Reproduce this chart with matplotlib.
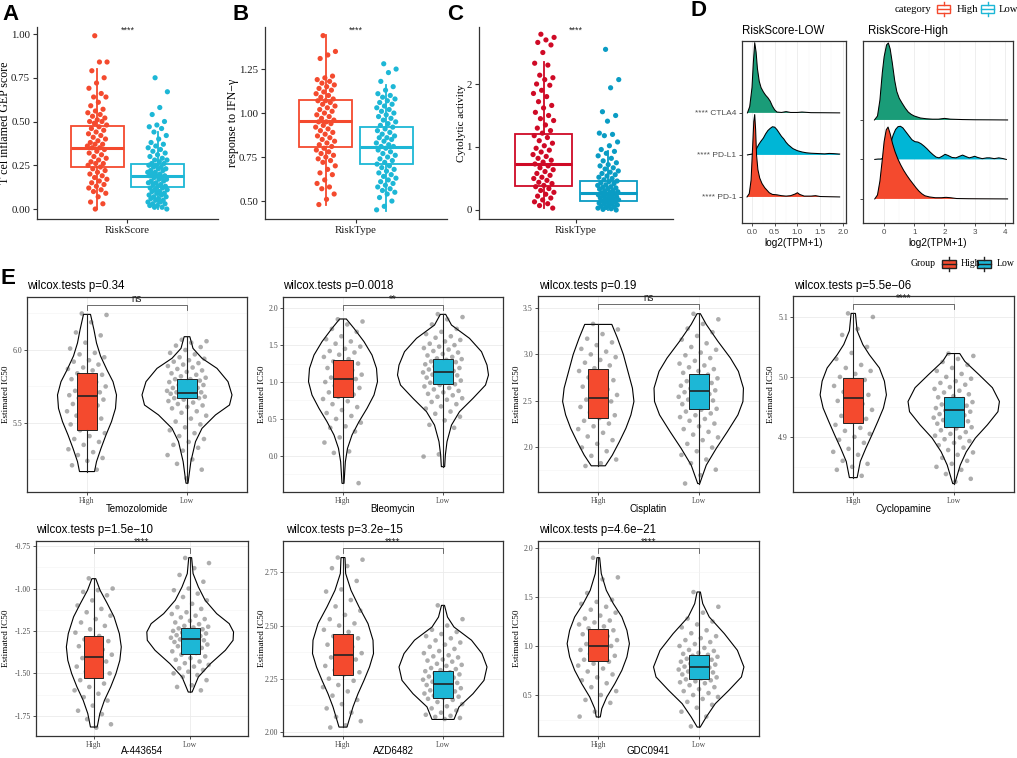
import numpy as np
import matplotlib
matplotlib.use("Agg")
import matplotlib.pyplot as plt
from matplotlib.patches import Rectangle, Polygon

# ======================= DATA =======================
groups = ["High", "Low"]

# ---- Panel A: T cell inflamed GEP score ----
a_high = [0.99, 0.84, 0.84, 0.79, 0.75, 0.72, 0.69, 0.66, 0.64, 0.64, 0.61, 0.59, 0.57, 0.56, 0.55, 0.54,
          0.53, 0.52, 0.51, 0.50, 0.50, 0.49, 0.48, 0.47, 0.46, 0.45, 0.44, 0.43, 0.42, 0.41, 0.40, 0.39,
          0.38, 0.37, 0.37, 0.36, 0.35, 0.35, 0.34, 0.33, 0.32, 0.31, 0.30, 0.29, 0.28, 0.27, 0.26, 0.26,
          0.25, 0.24, 0.23, 0.22, 0.21, 0.20, 0.19, 0.18, 0.17, 0.16, 0.15, 0.14, 0.13, 0.12, 0.11, 0.10,
          0.09, 0.07, 0.04, 0.03, 0.00]
a_low = [0.75, 0.67, 0.58, 0.54, 0.50, 0.48, 0.47, 0.46, 0.44, 0.42, 0.40, 0.38, 0.37, 0.36, 0.35, 0.34,
         0.33, 0.32, 0.31, 0.30, 0.29, 0.28, 0.28, 0.27, 0.26, 0.26, 0.25, 0.25, 0.24, 0.24, 0.23, 0.23,
         0.22, 0.22, 0.21, 0.21, 0.20, 0.20, 0.19, 0.19, 0.19, 0.18, 0.18, 0.17, 0.17, 0.16, 0.16, 0.15,
         0.15, 0.14, 0.14, 0.13, 0.13, 0.12, 0.12, 0.11, 0.11, 0.10, 0.10, 0.09, 0.09, 0.08, 0.08, 0.07,
         0.07, 0.06, 0.06, 0.05, 0.05, 0.04, 0.04, 0.03, 0.03, 0.02, 0.02, 0.01, 0.01, 0.00]
a_high_box = [0.242, 0.351, 0.477, 0.00, 0.80]   # q1, median, q3, whisker low, whisker high
a_low_box = [0.124, 0.191, 0.258, 0.00, 0.44]

# ---- Panel B: response to IFN-gamma ----
b_high = [1.44, 1.35, 1.33, 1.31, 1.21, 1.20, 1.19, 1.18, 1.17, 1.16, 1.15, 1.14, 1.13, 1.12, 1.11, 1.10,
          1.09, 1.08, 1.07, 1.07, 1.06, 1.05, 1.04, 1.03, 1.02, 1.01, 1.00, 0.99, 0.98, 0.97, 0.96, 0.95,
          0.95, 0.94, 0.93, 0.92, 0.91, 0.90, 0.89, 0.88, 0.87, 0.86, 0.85, 0.84, 0.83, 0.82, 0.81, 0.80,
          0.79, 0.78, 0.77, 0.76, 0.75, 0.74, 0.73, 0.72, 0.70, 0.68, 0.66, 0.65, 0.62, 0.60, 0.58, 0.57,
          0.54, 0.51, 0.48]
b_low = [1.28, 1.25, 1.23, 1.18, 1.15, 1.13, 1.11, 1.10, 1.09, 1.08, 1.07, 1.06, 1.05, 1.04, 1.03, 1.02,
         1.01, 1.00, 0.99, 0.98, 0.97, 0.96, 0.95, 0.94, 0.93, 0.92, 0.91, 0.90, 0.89, 0.88, 0.87, 0.86,
         0.86, 0.85, 0.84, 0.83, 0.82, 0.81, 0.81, 0.80, 0.79, 0.78, 0.77, 0.76, 0.75, 0.74, 0.73, 0.72,
         0.71, 0.70, 0.69, 0.68, 0.67, 0.66, 0.65, 0.64, 0.63, 0.62, 0.61, 0.60, 0.59, 0.58, 0.57, 0.56,
         0.55, 0.54, 0.52, 0.50, 0.47, 0.45]
b_high_box = [0.807, 0.957, 1.075, 0.475, 1.446]
b_low_box = [0.709, 0.808, 0.919, 0.443, 1.16]

# ---- Panel C: Cytolytic activity ----
c_high = [2.79, 2.74, 2.70, 2.66, 2.62, 2.50, 2.33, 2.30, 2.14, 2.10, 2.07, 2.00, 1.98, 1.90, 1.85, 1.80,
          1.72, 1.66, 1.62, 1.55, 1.50, 1.45, 1.42, 1.35, 1.30, 1.26, 1.22, 1.18, 1.15, 1.10, 1.06, 1.02,
          0.98, 0.95, 0.92, 0.88, 0.85, 0.82, 0.79, 0.76, 0.73, 0.70, 0.67, 0.64, 0.61, 0.58, 0.55, 0.52,
          0.50, 0.47, 0.44, 0.42, 0.39, 0.37, 0.34, 0.31, 0.28, 0.25, 0.22, 0.19, 0.16, 0.13, 0.10, 0.07, 0.03]
c_low = [2.55, 2.07, 1.94, 1.56, 1.50, 1.41, 1.22, 1.20, 1.18, 1.08, 1.02, 0.96, 0.93, 0.90, 0.86, 0.82,
         0.78, 0.75, 0.72, 0.70, 0.67, 0.65, 0.62, 0.60, 0.58, 0.56, 0.54, 0.52, 0.50, 0.48, 0.46, 0.45,
         0.43, 0.42, 0.40, 0.39, 0.37, 0.36, 0.35, 0.34, 0.33, 0.31, 0.30, 0.29, 0.28, 0.27, 0.26, 0.25,
         0.24, 0.23, 0.22, 0.21, 0.20, 0.19, 0.18, 0.17, 0.16, 0.15, 0.14, 0.13, 0.12, 0.11, 0.10, 0.09,
         0.08, 0.07, 0.06, 0.05, 0.04, 0.03, 0.02, 0.01, 0.00]
c_high_box = [0.382, 0.727, 1.204, 0.03, 2.345]
c_low_box = [0.149, 0.265, 0.46, 0.00, 0.93]

# ---- Panel D: ridgelines (x = log2(TPM+1), h = density height in row units) ----
d_rows = ["**** PD-1", "**** PD-L1", "**** CTLA4"]
dl_ctla4_x = [-0.10, -0.05, 0.0, 0.03, 0.06, 0.09, 0.12, 0.16, 0.20, 0.25, 0.30, 0.35, 0.40, 0.45, 0.50,
              0.55, 0.65, 0.75, 0.85, 1.0, 1.1, 1.3, 1.6, 1.93]
dl_ctla4_h = [0.0, 0.15, 0.6, 1.2, 1.67, 1.45, 1.05, 0.75, 0.6, 0.5, 0.42, 0.36, 0.28, 0.16, 0.07,
              0.02, 0.01, 0.03, 0.01, 0.01, 0.02, 0.005, 0.003, 0.0]
dl_pdl1_x = [-0.10, 0.0, 0.05, 0.10, 0.15, 0.20, 0.25, 0.30, 0.35, 0.40, 0.45, 0.50, 0.55, 0.60, 0.65,
             0.70, 0.75, 0.80, 0.90, 1.00, 1.10, 1.20, 1.30, 1.40, 1.50, 1.60, 1.70, 1.80, 1.93]
dl_pdl1_h = [0.0, 0.02, 0.06, 0.15, 0.25, 0.33, 0.40, 0.50, 0.58, 0.63, 0.67, 0.66, 0.60, 0.52, 0.44,
             0.38, 0.30, 0.24, 0.15, 0.10, 0.07, 0.05, 0.04, 0.035, 0.03, 0.025, 0.035, 0.03, 0.02]
dl_pd1_x = [-0.11, -0.06, -0.02, 0.01, 0.04, 0.06, 0.08, 0.10, 0.13, 0.17, 0.22, 0.28, 0.33, 0.38, 0.45,
            0.55, 0.65, 0.75, 0.85, 0.95, 1.0, 1.05, 1.15, 1.3, 1.4, 1.5, 1.7, 1.93]
dl_pd1_h = [0.0, 0.08, 0.4, 1.1, 1.8, 1.96, 1.6, 1.0, 0.65, 0.45, 0.32, 0.22, 0.16, 0.10, 0.06,
            0.05, 0.03, 0.02, 0.03, 0.07, 0.10, 0.06, 0.02, 0.02, 0.03, 0.01, 0.005, 0.0]
dr_ctla4_x = [-0.32, -0.22, -0.14, -0.06, 0.0, 0.08, 0.14, 0.2, 0.27, 0.35, 0.42, 0.5, 0.6, 0.7, 0.8,
              0.9, 1.0, 1.2, 1.4, 1.6, 1.8, 2.0, 2.2, 2.6, 3.0, 3.5, 4.09]
dr_ctla4_h = [0.0, 0.1, 0.5, 1.2, 1.6, 1.9, 1.95, 1.8, 1.45, 1.0, 0.72, 0.55, 0.42, 0.3, 0.2,
              0.14, 0.1, 0.05, 0.03, 0.02, 0.02, 0.04, 0.02, 0.01, 0.005, 0.003, 0.0]
dr_pdl1_x = [-0.31, -0.2, -0.1, 0.0, 0.08, 0.15, 0.22, 0.30, 0.38, 0.46, 0.54, 0.62, 0.72, 0.82, 0.92,
             1.02, 1.12, 1.22, 1.32, 1.42, 1.52, 1.62, 1.72, 1.82, 1.92, 2.02, 2.12, 2.25, 2.38, 2.5,
             2.6, 2.72, 2.82, 2.92, 3.0, 3.1, 3.25, 3.4, 3.5, 3.65, 3.8, 3.95, 4.05]
dr_pdl1_h = [0.0, 0.01, 0.01, 0.05, 0.12, 0.25, 0.42, 0.62, 0.76, 0.83, 0.84, 0.80, 0.70, 0.60, 0.50,
             0.45, 0.44, 0.40, 0.34, 0.27, 0.19, 0.12, 0.06, 0.04, 0.08, 0.13, 0.10, 0.05, 0.04, 0.08,
             0.11, 0.07, 0.04, 0.06, 0.08, 0.05, 0.02, 0.04, 0.04, 0.02, 0.04, 0.02, 0.0]
dr_pd1_x = [-0.31, -0.22, -0.14, -0.06, 0.0, 0.07, 0.13, 0.2, 0.28, 0.36, 0.45, 0.55, 0.65, 0.75, 0.85,
            0.95, 1.05, 1.15, 1.25, 1.35, 1.5, 1.7, 1.9, 2.05, 2.2, 2.4, 2.8, 3.2, 4.09]
dr_pd1_h = [0.0, 0.1, 0.45, 1.0, 1.45, 1.75, 1.82, 1.65, 1.4, 1.2, 1.02, 0.86, 0.72, 0.6, 0.49,
            0.39, 0.29, 0.2, 0.13, 0.08, 0.05, 0.03, 0.03, 0.04, 0.03, 0.01, 0.005, 0.003, 0.0]

# ---- Panel E: drug sensitivity (Estimated IC50) ----
drugs = ["Temozolomide", "Bleomycin", "Cisplatin", "Cyclopamine", "A-443654", "AZD6482", "GDC0941"]
pvals = ["0.34", "0.0018", "0.19", "5.5e\u221206", "1.5e\u221210", "3.2e\u221215", "4.6e\u221221"]
sig_labels = ["ns", "**", "ns", "****", "****", "****", "****"]

tem_high = [6.25, 6.24, 6.19, 6.12, 6.10, 6.05, 6.01, 5.98, 5.97, 5.95, 5.93, 5.92, 5.90, 5.88, 5.87, 5.86,
            5.84, 5.83, 5.81, 5.80, 5.78, 5.77, 5.75, 5.74, 5.72, 5.71, 5.70, 5.69, 5.68, 5.67, 5.66, 5.65,
            5.63, 5.62, 5.60, 5.58, 5.57, 5.55, 5.53, 5.51, 5.49, 5.47, 5.45, 5.43, 5.41, 5.39, 5.37, 5.35,
            5.32, 5.30, 5.28, 5.26, 5.24, 5.21, 5.18]
tem_low = [6.07, 6.06, 6.05, 6.03, 6.02, 6.00, 5.98, 5.97, 5.95, 5.94, 5.93, 5.92, 5.91, 5.90, 5.89, 5.88,
           5.87, 5.86, 5.85, 5.84, 5.83, 5.82, 5.81, 5.80, 5.80, 5.79, 5.78, 5.78, 5.77, 5.76, 5.76, 5.75,
           5.74, 5.74, 5.73, 5.72, 5.72, 5.71, 5.71, 5.70, 5.70, 5.69, 5.69, 5.68, 5.68, 5.67, 5.67, 5.66,
           5.65, 5.64, 5.63, 5.62, 5.61, 5.60, 5.58, 5.57, 5.55, 5.53, 5.51, 5.49, 5.47, 5.45, 5.43, 5.41,
           5.39, 5.37, 5.35, 5.33, 5.31, 5.28, 5.25, 5.22, 5.18, 5.12]
tem_high_box = [5.452, 5.685, 5.840, 5.167, 6.244]
tem_low_box = [5.673, 5.708, 5.801, 5.087, 6.091]
tem_high_vy = [5.167, 5.235, 5.326, 5.418, 5.509, 5.600, 5.692, 5.783, 5.863, 5.959, 6.048, 6.137, 6.244]
tem_high_vw = [0.15, 0.19, 0.28, 0.38, 0.49, 0.57, 0.59, 0.52, 0.40, 0.27, 0.19, 0.14, 0.07]
tem_low_vy = [5.087, 5.235, 5.372, 5.463, 5.555, 5.623, 5.692, 5.783, 5.874, 5.943, 6.011, 6.091]
tem_low_vw = [0.02, 0.077, 0.17, 0.30, 0.57, 0.85, 0.90, 0.82, 0.60, 0.30, 0.12, 0.057]

bleo_high = [1.85, 1.82, 1.78, 1.72, 1.68, 1.62, 1.58, 1.55, 1.52, 1.48, 1.45, 1.42, 1.40, 1.37, 1.34, 1.31,
             1.28, 1.25, 1.22, 1.19, 1.16, 1.13, 1.10, 1.08, 1.06, 1.04, 1.02, 1.00, 0.98, 0.95, 0.92, 0.89,
             0.86, 0.83, 0.80, 0.77, 0.74, 0.70, 0.66, 0.62, 0.58, 0.54, 0.50, 0.45, 0.40, 0.38, 0.33, 0.25,
             0.18, 0.06, 0.04, -0.37]
bleo_low = [1.92, 1.88, 1.85, 1.78, 1.72, 1.68, 1.65, 1.62, 1.60, 1.57, 1.55, 1.52, 1.50, 1.48, 1.46, 1.44,
            1.42, 1.40, 1.38, 1.36, 1.34, 1.32, 1.31, 1.30, 1.28, 1.27, 1.25, 1.24, 1.22, 1.21, 1.19, 1.18,
            1.17, 1.15, 1.14, 1.13, 1.12, 1.10, 1.09, 1.08, 1.06, 1.05, 1.03, 1.02, 1.00, 0.99, 0.97, 0.96,
            0.94, 0.92, 0.90, 0.88, 0.86, 0.84, 0.82, 0.80, 0.78, 0.76, 0.73, 0.70, 0.67, 0.64, 0.60, 0.57,
            0.53, 0.48, 0.42, 0.38, 0.02, -0.01]
bleo_high_box = [0.801, 1.041, 1.294, -0.373, 1.854]
bleo_low_box = [0.970, 1.135, 1.307, -0.147, 1.917]
bleo_high_vy = [-0.373, -0.080, 0.101, 0.282, 0.463, 0.643, 0.824, 1.005, 1.185, 1.366, 1.547, 1.727, 1.854]
bleo_high_vw = [0.02, 0.047, 0.09, 0.18, 0.32, 0.48, 0.62, 0.69, 0.67, 0.58, 0.42, 0.22, 0.067]
bleo_low_vy = [-0.147, 0.011, 0.192, 0.417, 0.598, 0.779, 0.959, 1.095, 1.230, 1.411, 1.592, 1.772, 1.917]
bleo_low_vw = [0.033, 0.047, 0.08, 0.17, 0.33, 0.60, 0.85, 0.91, 0.88, 0.77, 0.53, 0.17, 0.053]

cis_high = [3.33, 3.27, 3.22, 3.17, 3.13, 3.10, 3.06, 3.03, 3.00, 2.97, 2.94, 2.91, 2.88, 2.85, 2.82, 2.78,
            2.75, 2.72, 2.68, 2.65, 2.62, 2.59, 2.56, 2.53, 2.51, 2.49, 2.46, 2.43, 2.40, 2.37, 2.34, 2.31,
            2.28, 2.25, 2.22, 2.19, 2.15, 2.11, 2.07, 2.03, 1.99, 1.95, 1.90, 1.86, 1.82, 1.79]
cis_low = [3.44, 3.38, 3.33, 3.28, 3.24, 3.20, 3.16, 3.12, 3.08, 3.05, 3.02, 2.99, 2.96, 2.93, 2.90, 2.88,
           2.86, 2.84, 2.82, 2.80, 2.78, 2.76, 2.74, 2.72, 2.71, 2.69, 2.67, 2.66, 2.64, 2.63, 2.61, 2.60,
           2.59, 2.57, 2.56, 2.54, 2.53, 2.51, 2.50, 2.48, 2.46, 2.45, 2.43, 2.41, 2.40, 2.38, 2.36, 2.34,
           2.32, 2.30, 2.28, 2.25, 2.22, 2.19, 2.16, 2.13, 2.10, 2.07, 2.03, 1.99, 1.95, 1.91, 1.86, 1.82,
           1.75, 1.69, 1.60]
cis_high_box = [2.315, 2.525, 2.841, 1.792, 3.325]
cis_low_box = [2.406, 2.598, 2.787, 1.599, 3.441]
cis_high_vy = [1.792, 1.908, 2.053, 2.199, 2.344, 2.489, 2.634, 2.816, 2.998, 3.179, 3.325]
cis_high_vw = [0.14, 0.28, 0.42, 0.55, 0.65, 0.71, 0.68, 0.59, 0.50, 0.38, 0.27]
cis_low_vy = [1.599, 1.799, 1.981, 2.162, 2.344, 2.489, 2.634, 2.816, 2.961, 3.143, 3.325, 3.441]
cis_low_vw = [0.02, 0.15, 0.35, 0.57, 0.78, 0.88, 0.89, 0.79, 0.63, 0.38, 0.15, 0.033]

cyc_high = [5.106, 5.10, 5.08, 5.07, 5.05, 5.04, 5.03, 5.02, 5.015, 5.01, 5.005, 5.00, 4.995, 4.99, 4.985,
            4.98, 4.975, 4.97, 4.965, 4.96, 4.955, 4.95, 4.945, 4.94, 4.935, 4.93, 4.925, 4.92, 4.915, 4.91,
            4.905, 4.90, 4.895, 4.89, 4.88, 4.875, 4.87, 4.86, 4.855, 4.85, 4.845, 4.835]
cyc_low = [5.039, 5.035, 5.03, 5.025, 5.02, 5.015, 5.01, 5.005, 5.00, 4.997, 4.993, 4.99, 4.987, 4.983,
           4.98, 4.977, 4.974, 4.971, 4.968, 4.966, 4.963, 4.96, 4.958, 4.956, 4.954, 4.952, 4.95, 4.948,
           4.946, 4.944, 4.942, 4.94, 4.938, 4.936, 4.934, 4.932, 4.93, 4.928, 4.926, 4.924, 4.922, 4.92,
           4.918, 4.916, 4.914, 4.911, 4.908, 4.905, 4.902, 4.899, 4.896, 4.893, 4.89, 4.886, 4.882, 4.878,
           4.874, 4.87, 4.865, 4.86, 4.855, 4.85, 4.845, 4.838, 4.83, 4.825]
cyc_high_box = [4.923, 4.965, 4.998, 4.832, 5.106]
cyc_low_box = [4.917, 4.944, 4.966, 4.822, 5.039]
cyc_high_vy = [4.832, 4.859, 4.881, 4.903, 4.926, 4.948, 4.970, 4.993, 5.015, 5.037, 5.054, 5.077, 5.106]
cyc_high_vw = [0.077, 0.14, 0.25, 0.37, 0.49, 0.60, 0.66, 0.62, 0.52, 0.32, 0.19, 0.077, 0.043]
cyc_low_vy = [4.822, 4.853, 4.875, 4.898, 4.920, 4.942, 4.959, 4.982, 5.004, 5.026, 5.039]
cyc_low_vw = [0.02, 0.13, 0.25, 0.43, 0.67, 0.88, 0.91, 0.77, 0.50, 0.22, 0.12]

a44_high = [-0.94, -1.00, -1.01, -1.02, -1.04, -1.07, -1.10, -1.12, -1.14, -1.16, -1.18, -1.20, -1.22,
            -1.24, -1.26, -1.28, -1.30, -1.31, -1.33, -1.34, -1.36, -1.37, -1.39, -1.40, -1.41, -1.43,
            -1.44, -1.46, -1.47, -1.49, -1.50, -1.52, -1.54, -1.56, -1.58, -1.60, -1.62, -1.64, -1.66,
            -1.69, -1.72, -1.74, -1.77, -1.80, -1.82]
a44_low = [-0.82, -0.85, -0.88, -0.92, -0.96, -1.00, -1.01, -1.03, -1.05, -1.07, -1.09, -1.11, -1.12,
           -1.14, -1.15, -1.16, -1.17, -1.18, -1.19, -1.20, -1.21, -1.22, -1.225, -1.23, -1.235, -1.24,
           -1.245, -1.25, -1.255, -1.26, -1.265, -1.27, -1.275, -1.28, -1.285, -1.29, -1.295, -1.30,
           -1.305, -1.31, -1.315, -1.32, -1.325, -1.33, -1.335, -1.34, -1.35, -1.36, -1.37, -1.38, -1.39,
           -1.40, -1.41, -1.42, -1.43, -1.44, -1.45, -1.46, -1.47, -1.48, -1.49, -1.50, -1.51, -1.52,
           -1.54, -1.57, -1.58, -1.60]
a44_high_box = [-1.525, -1.403, -1.278, -1.816, -0.942]
a44_low_box = [-1.388, -1.297, -1.230, -1.610, -0.818]
a44_high_vy = [-1.816, -1.737, -1.659, -1.580, -1.501, -1.423, -1.344, -1.266, -1.167, -1.089, -1.010, -0.942]
a44_high_vw = [0.07, 0.125, 0.22, 0.35, 0.46, 0.54, 0.57, 0.53, 0.42, 0.28, 0.13, 0.04]
a44_low_vy = [-1.610, -1.521, -1.443, -1.364, -1.305, -1.256, -1.207, -1.148, -1.069, -0.991, -0.912, -0.818]
a44_low_vw = [0.04, 0.17, 0.42, 0.73, 0.89, 0.90, 0.81, 0.55, 0.31, 0.17, 0.06, 0.03]

azd_high = [2.82, 2.81, 2.78, 2.77, 2.71, 2.67, 2.66, 2.62, 2.59, 2.57, 2.55, 2.53, 2.51, 2.50, 2.48, 2.47,
            2.45, 2.44, 2.42, 2.41, 2.40, 2.39, 2.37, 2.36, 2.35, 2.34, 2.33, 2.31, 2.30, 2.29, 2.28, 2.27,
            2.25, 2.24, 2.22, 2.21, 2.19, 2.17, 2.15, 2.13, 2.11, 2.09, 2.07, 2.05, 2.03, 2.02]
azd_low = [2.595, 2.53, 2.50, 2.48, 2.47, 2.46, 2.45, 2.44, 2.43, 2.42, 2.41, 2.40, 2.39, 2.38, 2.37, 2.36,
           2.355, 2.35, 2.34, 2.335, 2.33, 2.32, 2.315, 2.31, 2.30, 2.295, 2.29, 2.285, 2.28, 2.275, 2.27,
           2.265, 2.26, 2.255, 2.25, 2.245, 2.24, 2.235, 2.23, 2.225, 2.22, 2.215, 2.21, 2.205, 2.20, 2.195,
           2.19, 2.185, 2.18, 2.175, 2.17, 2.165, 2.16, 2.155, 2.15, 2.14, 2.13, 2.12, 2.11, 2.10, 2.09,
           2.08, 2.075, 2.07, 2.065, 2.06]
azd_high_box = [2.266, 2.360, 2.462, 2.022, 2.820]
azd_low_box = [2.158, 2.223, 2.285, 2.058, 2.595]
azd_high_vy = [2.022, 2.054, 2.117, 2.179, 2.242, 2.305, 2.368, 2.431, 2.509, 2.588, 2.666, 2.745, 2.820]
azd_high_vw = [0.08, 0.12, 0.20, 0.30, 0.42, 0.53, 0.61, 0.60, 0.50, 0.32, 0.16, 0.053, 0.04]
azd_low_vy = [2.058, 2.117, 2.179, 2.242, 2.305, 2.368, 2.431, 2.493, 2.540, 2.595]
azd_low_vw = [0.22, 0.32, 0.60, 0.82, 0.88, 0.78, 0.57, 0.22, 0.09, 0.03]

gdc_high = [1.90, 1.70, 1.68, 1.54, 1.47, 1.45, 1.43, 1.40, 1.37, 1.34, 1.31, 1.28, 1.26, 1.24, 1.22, 1.20,
            1.18, 1.16, 1.14, 1.12, 1.10, 1.08, 1.06, 1.04, 1.02, 1.00, 0.98, 0.96, 0.94, 0.92, 0.90, 0.88,
            0.86, 0.84, 0.82, 0.80, 0.77, 0.74, 0.71, 0.68, 0.65, 0.62, 0.58, 0.54, 0.50, 0.45, 0.42, 0.33, 0.28]
gdc_low = [1.55, 1.40, 1.34, 1.28, 1.25, 1.22, 1.19, 1.16, 1.13, 1.10, 1.08, 1.06, 1.04, 1.02, 1.00, 0.98,
           0.96, 0.95, 0.93, 0.92, 0.91, 0.90, 0.89, 0.88, 0.87, 0.86, 0.85, 0.84, 0.83, 0.82, 0.81, 0.80,
           0.79, 0.78, 0.77, 0.76, 0.75, 0.74, 0.73, 0.72, 0.71, 0.70, 0.69, 0.68, 0.67, 0.66, 0.65, 0.64,
           0.63, 0.62, 0.60, 0.58, 0.56, 0.54, 0.52, 0.50, 0.48, 0.46, 0.43, 0.40, 0.37, 0.33, 0.28, 0.18]
gdc_high_box = [0.844, 1.000, 1.177, 0.276, 1.901]
gdc_low_box = [0.667, 0.786, 0.905, 0.173, 1.551]
gdc_high_vy = [0.276, 0.361, 0.480, 0.616, 0.752, 0.888, 1.024, 1.160, 1.296, 1.432, 1.568, 1.738, 1.901]
gdc_high_vw = [0.04, 0.07, 0.17, 0.33, 0.47, 0.57, 0.62, 0.57, 0.47, 0.30, 0.16, 0.06, 0.027]
gdc_low_vy = [0.173, 0.276, 0.412, 0.548, 0.684, 0.786, 0.956, 1.126, 1.296, 1.432, 1.551]
gdc_low_vw = [0.03, 0.15, 0.33, 0.60, 0.85, 0.90, 0.77, 0.51, 0.21, 0.08, 0.033]

# ======================= STYLE / LAYOUT =======================
W, H = 1017, 758
SERIF = "Liberation Serif"
SANS = "Liberation Sans"
RED = "#F44A2E"
CYAN = "#1DB7D6"
C_RED = "#CF0A26"
C_BLUE = "#0A9CC4"
GREEN = "#1A9C78"
D_BLUE = "#00B6D6"

fig = plt.figure(figsize=(W / 100, H / 100), dpi=100)


def px_axes(x0, y0, x1, y1):
    return fig.add_axes([x0 / W, 1 - y1 / H, (x1 - x0) / W, (y1 - y0) / H])


def jitter(n, width):
    return (((np.arange(n) * 0.6180339887 + 0.37) % 1.0) - 0.5) * 2 * width


def stats(b):
    return [dict(q1=b[0], med=b[1], q3=b[2], whislo=b[3], whishi=b[4], fliers=[])]


def risk_panel(rect, hi, lo, hib, lob, cols, ylim, yticks, yticklabels, ylab, xlab, ylab_x, ylab_fs):
    ax = px_axes(*rect)
    for pos, pts, b, col in ((0.8, hi, hib, cols[0]), (1.2, lo, lob, cols[1])):
        ax.bxp(stats(b), positions=[pos], widths=0.35, showcaps=False, showfliers=False,
               patch_artist=True, manage_ticks=False, zorder=2,
               boxprops=dict(facecolor="none", edgecolor=col, linewidth=1.3),
               medianprops=dict(color=col, linewidth=2.2, solid_capstyle="butt"),
               whiskerprops=dict(color=col, linewidth=1.3))
        pts = np.asarray(pts, dtype=float)
        ax.scatter(pos + jitter(len(pts), 0.066), pts, s=14, color=col, edgecolors="none", zorder=3)
    ax.set_xlim(0.4, 1.6)
    ax.set_ylim(*ylim)
    ax.set_xticks([1.0])
    ax.set_xticklabels([xlab], fontfamily=SERIF, fontsize=7.8)
    ax.set_yticks(yticks)
    ax.set_yticklabels(yticklabels, fontfamily=SERIF, fontsize=7.8)
    for s in ("top", "right"):
        ax.spines[s].set_visible(False)
    for s in ("left", "bottom"):
        ax.spines[s].set_linewidth(0.9)
        ax.spines[s].set_color("#333333")
    ax.tick_params(length=3, width=0.8, color="#333333", labelcolor="#1a1a1a", pad=2)
    ax.set_ylabel(ylab, fontfamily=SERIF, fontsize=ylab_fs)
    x0, y0, x1, y1 = rect
    ax.yaxis.set_label_coords((ylab_x - x0) / (x1 - x0), 0.5)
    ax.text(1.0, 0.985, "****", transform=ax.get_xaxis_transform(), ha="center", va="center",
            fontsize=6.5, fontfamily=SANS, color="#222222")
    return ax


def drug_panel(rect, hi, lo, hib, lob, hvy, hvw, lvy, lvw, ylim, yticks, ylabels, yminor, drug, sig, ylab_x):
    ax = px_axes(*rect)
    for pos, vy, vw in ((1, hvy, hvw), (2, lvy, lvw)):
        vy = np.asarray(vy, dtype=float)
        vw = np.asarray(vw, dtype=float)
        xs = np.concatenate([pos - vw / 2, (pos + vw / 2)[::-1]])
        ys = np.concatenate([vy, vy[::-1]])
        ax.add_patch(Polygon(np.column_stack([xs, ys]), closed=True, facecolor="none",
                             edgecolor="black", lw=0.8, zorder=2))
    for pos, pts in ((1, hi), (2, lo)):
        pts = np.asarray(pts, dtype=float)
        ax.scatter(pos + jitter(len(pts), 0.2), pts, s=11, color="#333333", alpha=0.4,
                   edgecolors="none", zorder=3)
    for pos, b, col in ((1, hib, RED), (2, lob, CYAN)):
        ax.bxp(stats(b), positions=[pos], widths=0.2, showcaps=False, showfliers=False,
               patch_artist=True, manage_ticks=False, zorder=4,
               boxprops=dict(facecolor=col, edgecolor="#222222", linewidth=0.7),
               medianprops=dict(color="#222222", linewidth=1.2, solid_capstyle="butt"),
               whiskerprops=dict(color="#222222", linewidth=0.8))
    dmax = max(hib[4], lob[4])
    dmin = min(hib[3], lob[3])
    rng = dmax - dmin
    yb = dmax + 0.055 * rng
    yt = yb - 0.03 * rng
    ax.plot([1, 1, 2, 2], [yt, yb, yb, yt], color="#555555", lw=0.6, zorder=5)
    ax.text(1.5, yb + 0.006 * rng, sig, ha="center", va="bottom", fontsize=7, fontfamily=SANS,
            color="#222222", zorder=5)
    ax.set_xlim(0.4, 2.6)
    ax.set_ylim(*ylim)
    ax.set_xticks([1, 2])
    ax.set_xticklabels(groups, fontfamily=SERIF, fontsize=5.6)
    ax.set_yticks(yticks)
    ax.set_yticklabels(ylabels, fontfamily=SERIF, fontsize=5.6)
    ax.set_yticks(yminor, minor=True)
    ax.grid(True, which="major", color="#EBEBEB", lw=0.6)
    ax.grid(True, which="minor", axis="y", color="#F3F3F3", lw=0.4)
    ax.set_axisbelow(True)
    ax.tick_params(which="minor", length=0)
    ax.tick_params(which="major", length=2.5, width=0.6, color="#333333", labelcolor="#4D4D4D", pad=1.2)
    for s in ax.spines.values():
        s.set_linewidth(0.9)
        s.set_color("#333333")
    ax.set_ylabel("Estimated IC50", fontfamily=SERIF, fontsize=6.6)
    x0, y0, x1, y1 = rect
    ax.yaxis.set_label_coords((ylab_x - x0) / (x1 - x0), 0.5)
    return ax


def ridge_panel(rect, curves, xlim, ylim, xticks, xticklabels, xminor, show_labels):
    ax = px_axes(*rect)
    for i, (base, xs, hs, col) in enumerate(curves):
        xs = np.asarray(xs, dtype=float)
        hs = np.asarray(hs, dtype=float)
        ax.fill_between(xs, base, base + hs, facecolor=col, edgecolor="none", zorder=2 + 2 * i)
        ax.plot(xs, base + hs, color="black", lw=0.75, zorder=3 + 2 * i)
    ax.set_xlim(*xlim)
    ax.set_ylim(*ylim)
    ax.set_xticks(xticks)
    ax.set_xticklabels(xticklabels, fontfamily=SANS, fontsize=5.8)
    ax.set_xticks(xminor, minor=True)
    ax.grid(True, axis="x", which="major", color="#EBEBEB", lw=0.6)
    ax.grid(True, axis="x", which="minor", color="#F3F3F3", lw=0.35)
    ax.set_axisbelow(True)
    ax.set_yticks([1, 2, 3])
    if show_labels:
        ax.set_yticklabels(d_rows, fontfamily=SANS, fontsize=6)
    else:
        ax.set_yticklabels([])
    ax.tick_params(which="minor", length=0)
    ax.tick_params(which="major", length=2.5, width=0.6, color="#333333", labelcolor="#4D4D4D", pad=1.5)
    for s in ax.spines.values():
        s.set_linewidth(0.9)
        s.set_color("#333333")
    ax.set_xlabel("log2(TPM+1)", fontfamily=SANS, fontsize=7.2, labelpad=2)
    return ax


# ---------------- Panels A, B, C ----------------
risk_panel((37, 27, 218, 219), a_high, a_low, a_high_box, a_low_box, (RED, CYAN), (-0.057, 1.04),
           [0, 0.25, 0.5, 0.75, 1.0], ["0.00", "0.25", "0.50", "0.75", "1.00"],
           "T cel inflamed GEP score", "RiskScore", 11, 8.6)
risk_panel((265, 27, 447, 219), b_high, b_low, b_high_box, b_low_box, (RED, CYAN), (0.398, 1.489),
           [0.5, 0.75, 1.0, 1.25], ["0.50", "0.75", "1.00", "1.25"],
           "response to IFN\u2212\u03b3", "RiskType", 239, 8.6)
risk_panel((479, 27, 673, 219), c_high, c_low, c_high_box, c_low_box, (C_RED, C_BLUE), (-0.143, 2.905),
           [0, 1, 2], ["0", "1", "2"], "Cytolytic activity", "RiskType", 466, 8.0)

# ---------------- Panel D ----------------
ridge_panel((742, 41, 846, 223),
            [(3, dl_ctla4_x, dl_ctla4_h, GREEN), (2, dl_pdl1_x, dl_pdl1_h, D_BLUE), (1, dl_pd1_x, dl_pd1_h, RED)],
            (-0.22, 2.07), (0.38, 4.71), [0, 0.5, 1.0, 1.5, 2.0], ["0.0", "0.5", "1.0", "1.5", "2.0"],
            [0.25, 0.75, 1.25, 1.75], True)
ridge_panel((863, 41, 1013, 223),
            [(3, dr_ctla4_x, dr_ctla4_h, GREEN), (2, dr_pdl1_x, dr_pdl1_h, D_BLUE), (1, dr_pd1_x, dr_pd1_h, RED)],
            (-0.70, 4.27), (0.39, 5.0), [0, 1, 2, 3, 4], ["0", "1", "2", "3", "4"],
            [-0.5, 0.5, 1.5, 2.5, 3.5], False)

# ---------------- Panel E ----------------
e_rects = [(27, 297, 247, 492), (283, 297, 503, 492), (538, 296, 759, 492), (793, 296, 1014, 492),
           (36, 541, 248, 736), (283, 541, 503, 736), (538, 541, 759, 736)]
e_ylab_x = [10, 266, 521, 775, 10, 266, 521]
e_specs = [
    (tem_high, tem_low, tem_high_box, tem_low_box, tem_high_vy, tem_high_vw, tem_low_vy,
     tem_low_vw, (5.027, 6.363), [5.5, 6.0], ["5.5", "6.0"], [5.25, 5.75, 6.25]),
    (bleo_high, bleo_low, bleo_high_box, bleo_low_box, bleo_high_vy, bleo_high_vw,
     bleo_low_vy, bleo_low_vw, (-0.49, 2.152), [0, 0.5, 1.0, 1.5, 2.0], ["0.0", "0.5", "1.0", "1.5", "2.0"],
     [-0.25, 0.25, 0.75, 1.25, 1.75]),
    (cis_high, cis_low, cis_high_box, cis_low_box, cis_high_vy, cis_high_vw, cis_low_vy,
     cis_low_vw, (1.508, 3.633), [2.0, 2.5, 3.0, 3.5], ["2.0", "2.5", "3.0", "3.5"], [1.75, 2.25, 2.75, 3.25]),
    (cyc_high, cyc_low, cyc_high_box, cyc_low_box, cyc_high_vy, cyc_high_vw, cyc_low_vy,
     cyc_low_vw, (4.808, 5.135), [4.9, 5.0, 5.1], ["4.9", "5.0", "5.1"], [4.85, 4.95, 5.05]),
    (a44_high, a44_low, a44_high_box, a44_low_box, a44_high_vy, a44_high_vw, a44_low_vy,
     a44_low_vw, (-1.869, -0.72), [-1.75, -1.5, -1.25, -1.0, -0.75], ["-1.75", "-1.50", "-1.25", "-1.00", "-0.75"],
     [-1.625, -1.375, -1.125, -0.875]),
    (azd_high, azd_low, azd_high_box, azd_low_box, azd_high_vy, azd_high_vw, azd_low_vy,
     azd_low_vw, (1.98, 2.898), [2.0, 2.25, 2.5, 2.75], ["2.00", "2.25", "2.50", "2.75"], [2.125, 2.375, 2.625]),
    (gdc_high, gdc_low, gdc_high_box, gdc_low_box, gdc_high_vy, gdc_high_vw, gdc_low_vy,
     gdc_low_vw, (0.082, 2.071), [0.5, 1.0, 1.5, 2.0], ["0.5", "1.0", "1.5", "2.0"], [0.25, 0.75, 1.25, 1.75]),
]
for i, spec in enumerate(e_specs):
    drug_panel(e_rects[i], *spec, drugs[i], sig_labels[i], e_ylab_x[i])

# ---------------- overlay: labels, titles, legends ----------------
ov = fig.add_axes([0, 0, 1, 1], zorder=20)
ov.set_xlim(0, W)
ov.set_ylim(H, 0)
ov.axis("off")
ov.patch.set_alpha(0)

for lab, x, y in (("A", 2, 15), ("B", 232, 15), ("C", 447, 15), ("D", 691, 11), ("E", 0, 279)):
    ov.text(x, y, lab, fontsize=16, fontweight="bold", fontfamily=SANS, ha="left", va="center")

title_pos = [(27, 286), (283, 286), (539, 286), (794, 286), (36, 530), (286, 530), (539, 530)]
for (x, y), p in zip(title_pos, pvals):
    ov.text(x, y, "wilcox.tests p=" + p, fontsize=8.3, fontfamily=SANS, ha="left", va="center")

for r, d in zip(e_rects, drugs):
    ycen = 509 if r[1] < 400 else 751
    ov.text((r[0] + r[2]) / 2, ycen, d, fontsize=7, fontfamily=SANS, ha="center", va="center")

ov.text(742, 31, "RiskScore-LOW", fontsize=8.3, fontfamily=SANS, ha="left", va="center")
ov.text(868, 31, "RiskScore-High", fontsize=8.3, fontfamily=SANS, ha="left", va="center")


def box_glyph(x0, y0, w, h, edge, face):
    ov.add_patch(Rectangle((x0, y0 + 0.22 * h), w, 0.56 * h, facecolor=face, edgecolor=edge, lw=1.0))
    ov.plot([x0, x0 + w], [y0 + 0.5 * h] * 2, color=edge, lw=1.0)
    ov.plot([x0 + w / 2] * 2, [y0, y0 + 0.22 * h], color=edge, lw=1.0)
    ov.plot([x0 + w / 2] * 2, [y0 + 0.78 * h, y0 + h], color=edge, lw=1.0)


ov.text(895, 9, "category", fontsize=7.7, fontfamily=SERIF, ha="left", va="center")
box_glyph(937, 2, 13, 14, RED, "white")
ov.text(957, 9, groups[0], fontsize=7.7, fontfamily=SERIF, ha="left", va="center")
box_glyph(981, 2, 13, 14, CYAN, "white")
ov.text(999, 9, groups[1], fontsize=7.7, fontfamily=SERIF, ha="left", va="center")

ov.text(911, 264, "Group", fontsize=7, fontfamily=SERIF, ha="left", va="center")
box_glyph(942, 257, 14, 14, "#222222", RED)
ov.text(961, 264, groups[0], fontsize=7, fontfamily=SERIF, ha="left", va="center")
box_glyph(977, 257, 14, 14, "#222222", CYAN)
ov.text(997, 264, groups[1], fontsize=7, fontfamily=SERIF, ha="left", va="center")

fig.savefig("out.png", dpi=100)
